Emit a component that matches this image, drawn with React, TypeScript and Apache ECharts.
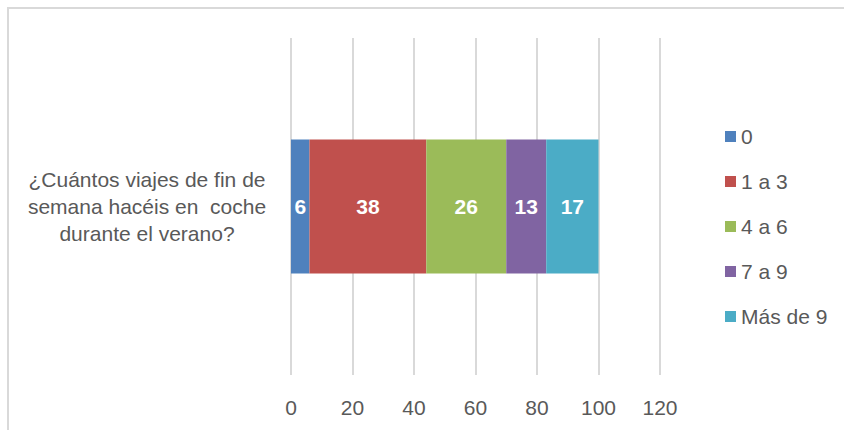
import React, { useEffect, useRef } from "react";
import * as echarts from "echarts";

const categories = ["¿Cuántos viajes de fin de\nsemana hacéis en  coche\ndurante el verano?"];
const seriesNames = ["0", "1 a 3", "4 a 6", "7 a 9", "Más de 9"];
const seriesValues = [[6], [38], [26], [13], [17]];
const colors = ["#4F81BD", "#C0504D", "#9BBB59", "#8064A2", "#4BACC6"];
const xTicks = { min: 0, max: 120, interval: 20 };

const FONT = "'Liberation Sans', Arial, sans-serif";

export default function App() {
  const ref = useRef<HTMLDivElement>(null);
  useEffect(() => {
    if (!ref.current) return;
    const chart = echarts.init(ref.current, undefined, { renderer: "svg" });
    chart.setOption({
      animation: false,
      backgroundColor: "#ffffff",
      textStyle: { fontFamily: FONT },
      graphic: [
        {
          type: "rect",
          shape: { x: 8, y: 8, width: 900, height: 500 },
          style: { fill: "none", stroke: "#d9d9d9", lineWidth: 2 },
          silent: true,
          z: -1,
        },
      ],
      grid: { left: 291, right: 184, top: 38, height: 337 },
      legend: {
        orient: "vertical",
        left: 720,
        top: 121,
        itemWidth: 11,
        itemHeight: 11,
        itemGap: 24,
        icon: "rect",
        textStyle: { fontSize: 21, color: "#595959", fontFamily: FONT },
        data: seriesNames,
      },
      xAxis: {
        type: "value",
        min: xTicks.min,
        max: xTicks.max,
        interval: xTicks.interval,
        axisLine: { show: false },
        axisTick: { show: false },
        splitLine: { show: true, lineStyle: { color: "#d9d9d9", width: 2 } },
        axisLabel: { fontSize: 21, color: "#595959", margin: 22, fontFamily: FONT },
      },
      yAxis: {
        type: "category",
        data: categories,
        axisLine: { show: false },
        axisTick: { show: false },
        axisLabel: {
          fontSize: 21,
          color: "#595959",
          align: "center",
          margin: 144,
          lineHeight: 27,
          fontFamily: FONT,
        },
      },
      series: seriesNames.map((name, i) => ({
        name,
        type: "bar",
        stack: "total",
        barWidth: 134,
        data: seriesValues[i],
        itemStyle: { color: colors[i] },
        label: {
          show: true,
          position: "inside",
          color: "#ffffff",
          fontWeight: "bold",
          fontSize: 21,
          fontFamily: FONT,
        },
      })),
    });
    return () => chart.dispose();
  }, []);
  return (
    <div
      ref={ref}
      style={{ position: "fixed", left: 0, top: 0, width: 844, height: 430 }}
    />
  );
}
